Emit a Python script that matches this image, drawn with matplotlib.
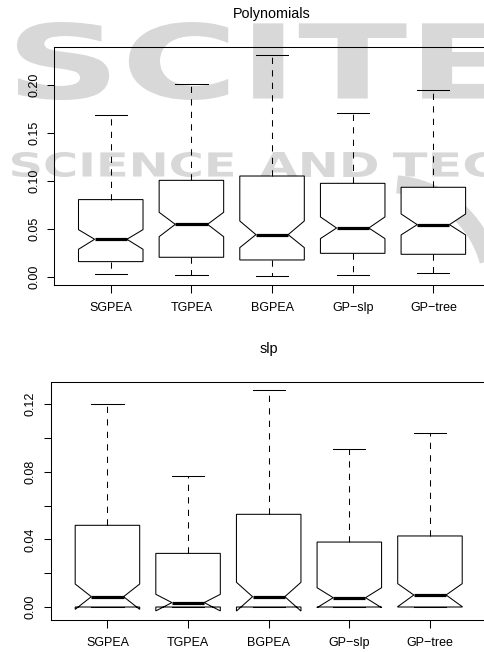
import matplotlib
matplotlib.use('Agg')
import matplotlib.pyplot as plt
from matplotlib.textpath import TextPath
from matplotlib.patches import PathPatch, Arc
from matplotlib.font_manager import FontProperties
from matplotlib.transforms import Affine2D

# ---------------- data ----------------
categories = ["SGPEA", "TGPEA", "BGPEA", "GP\u2212slp", "GP\u2212tree"]

# Polynomials
poly_whishi = [0.1686, 0.2004, 0.2309, 0.1703, 0.1942]
poly_q3     = [0.0807, 0.1007, 0.1052, 0.0976, 0.0935]
poly_cihi   = [0.0495, 0.0675, 0.0585, 0.0627, 0.0658]
poly_med    = [0.0395, 0.0550, 0.0443, 0.0512, 0.0547]
poly_cilo   = [0.0291, 0.0422, 0.0308, 0.0402, 0.0440]
poly_q1     = [0.0163, 0.0208, 0.0180, 0.0249, 0.0239]
poly_whislo = [0.0031, 0.0021, 0.0010, 0.0021, 0.0045]
poly_yticks = [0.00, 0.05, 0.10, 0.15, 0.20]
poly_ylabels = ["0.00", "0.05", "0.10", "0.15", "0.20"]

# slp
slp_whishi = [0.1200, 0.0772, 0.1281, 0.0936, 0.1026]
slp_q3     = [0.0483, 0.0317, 0.0548, 0.0384, 0.0420]
slp_cihi   = [0.0136, 0.0075, 0.0146, 0.0114, 0.0138]
slp_med    = [0.0061, 0.0026, 0.0061, 0.0055, 0.0071]
slp_cilo   = [-0.0014, -0.0023, -0.0024, -0.0004, 0.0002]
slp_q1     = [0.0, 0.0, 0.0, 0.0, 0.0]
slp_whislo = [0.0, 0.0, 0.0, 0.0, 0.0]
slp_yticks = [0.00, 0.02, 0.04, 0.06, 0.08, 0.10, 0.12]
slp_ylabels = ["0.00", "", "0.04", "", "0.08", "", "0.12"]

titles = ["Polynomials", "slp"]

# ---------------- figure ----------------
W, H = 484, 652
plt.rcParams['font.family'] = ['Liberation Sans', 'DejaVu Sans']
fig = plt.figure(figsize=(W / 100, H / 100), dpi=100)
fig.patch.set_facecolor('white')

WM = '#d8d8d8'


def watermark(text, x0, x1, ytop, ybot):
    fp = FontProperties(family='DejaVu Sans', weight='bold')
    p = TextPath((0, 0), text, size=100, prop=fp)
    ext = p.get_extents()
    sx = (x1 - x0) / ext.width / W
    sy = (ybot - ytop) / ext.height / H
    tr = Affine2D().translate(-ext.x0, -ext.y0).scale(sx, sy).translate(x0 / W, 1 - ybot / H)
    fig.add_artist(PathPatch(tr.transform_path(p), transform=fig.transFigure,
                             fc=WM, ec='none', zorder=-10))


watermark("SCITE", 17, 505, 22, 100)
watermark("SCIENCE", 12, 233, 152, 177)
watermark("AND", 260, 377, 152, 177)
watermark("TECHNOLOGY", 393, 780, 152, 177)
fig.add_artist(Arc((388 / 100, (H - 288) / 100), 2.08, 2.08, theta1=15, theta2=85,
                   transform=fig.dpi_scale_trans, color=WM, lw=13, zorder=-10))

axes_rects = [
    [54.3 / W, 1 - 285.3 / H, 435.5 / W, 238.6 / H],
    [51.0 / W, 1 - 620.3 / H, 435.4 / W, 238.6 / H],
]
ylims = [(-0.0083, 0.2395), (-0.00786, 0.1332)]

datasets = [
    (poly_whislo, poly_q1, poly_cilo, poly_med, poly_cihi, poly_q3, poly_whishi, poly_yticks, poly_ylabels),
    (slp_whislo, slp_q1, slp_cilo, slp_med, slp_cihi, slp_q3, slp_whishi, slp_yticks, slp_ylabels),
]

LW = 0.75
for i, (rect, ds) in enumerate(zip(axes_rects, datasets)):
    wl, q1, cl, md, ch, q3, wh, yt, yl = ds
    ax = fig.add_axes(rect)
    ax.set_facecolor('none')
    stats = []
    for k in range(len(categories)):
        stats.append(dict(med=md[k], q1=q1[k], q3=q3[k], whislo=wl[k], whishi=wh[k],
                          cilo=cl[k], cihi=ch[k], fliers=[], label=categories[k]))
    positions = list(range(1, len(categories) + 1))
    ax.bxp(stats, positions=positions, widths=0.8, capwidths=0.4, shownotches=True,
           showfliers=False, patch_artist=True,
           boxprops=dict(facecolor='white', edgecolor='black', linewidth=LW),
           whiskerprops=dict(color='black', linewidth=LW, linestyle=(0, (6, 6))),
           capprops=dict(color='black', linewidth=LW),
           medianprops=dict(color='black', linewidth=2.3, solid_capstyle='butt'))
    ax.set_xlim(0.3, 5.7)
    ax.set_ylim(*ylims[i])
    ax.set_xticks(positions)
    ax.set_xticklabels(categories, fontsize=9)
    ax.set_yticks(yt)
    ax.set_yticklabels(yl, fontsize=9, rotation=90, va='center')
    ax.tick_params(axis='both', direction='out', length=5.4, width=LW, color='black')
    ax.tick_params(axis='x', pad=6.5)
    ax.tick_params(axis='y', pad=4.8)
    for s in ax.spines.values():
        s.set_linewidth(LW)
        s.set_color('black')
    ax.set_title(titles[i], fontsize=10.4, pad=20.4)

fig.savefig('out.png', dpi=100, facecolor='white')
